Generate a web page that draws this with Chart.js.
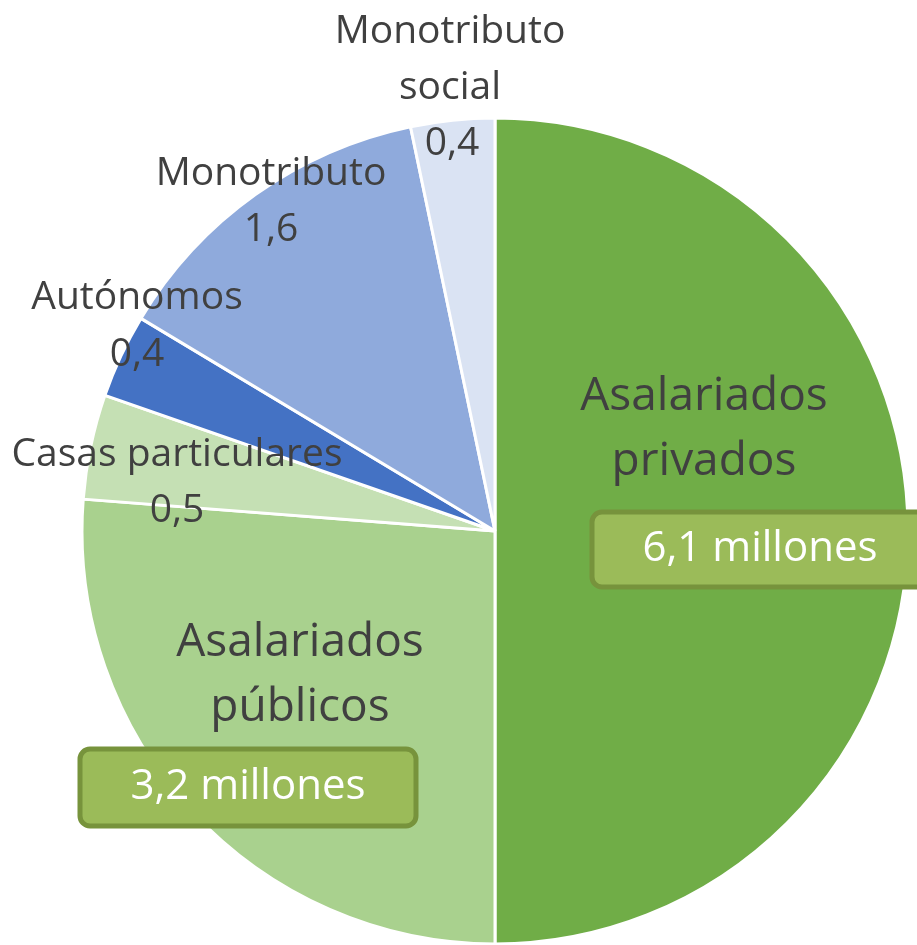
<!DOCTYPE html>
<html>
<head>
<meta charset="utf-8">
<script src="https://cdn.jsdelivr.net/npm/chart.js@4"></script>
<style>
  html, body { margin: 0; padding: 0; background: #fff; }
  #wrap { width: 917px; height: 945px; position: relative; }
</style>
</head>
<body>
<div id="wrap"><canvas id="grafico"></canvas></div>
<script>
// datos (millones de personas)
const categorias = ['Asalariados privados', 'Asalariados públicos', 'Casas particulares', 'Autónomos', 'Monotributo', 'Monotributo social'];
const valores = [6.1, 3.2, 0.5, 0.4, 1.6, 0.4];
const colores = ['#70AD47', '#A9D18E', '#C5E0B4', '#4472C4', '#8FAADC', '#DAE3F3'];

const fmt = v => v.toFixed(1).replace('.', ',');

// etiquetas: lineas de texto y posicion del centro de cada linea
const etiquetas = [
  { lineas: ['Asalariados', 'privados'], x: 704, y: 397, paso: 65, grande: true, caja: { x: 592, y: 512, w: 340, h: 75, tx: 760 } },
  { lineas: ['Asalariados', 'públicos'], x: 300, y: 643, paso: 65, grande: true, caja: { x: 80, y: 749, w: 336, h: 77, tx: 248 } },
  { lineas: ['Casas particulares'], x: 177, y: 455, paso: 56 },
  { lineas: ['Autónomos'], x: 137, y: 298, paso: 57 },
  { lineas: ['Monotributo'], x: 271, y: 174, paso: 56 },
  { lineas: ['Monotributo', 'social'], x: 450, y: 32, paso: 56 }
];

const etiquetasPlugin = {
  id: 'etiquetas',
  afterDraw(chart) {
    const ctx = chart.ctx;
    ctx.save();
    ctx.textAlign = 'center';
    ctx.textBaseline = 'middle';
    etiquetas.forEach((e, i) => {
      ctx.fillStyle = '#404040';
      ctx.font = e.grande ? '46px "Open Sans"' : '39px "Open Sans"';
      e.lineas.forEach((l, k) => ctx.fillText(l, e.x, e.y + k * e.paso));
      if (e.caja) {
        const c = e.caja;
        ctx.beginPath();
        ctx.roundRect(c.x, c.y, c.w, c.h, 10);
        ctx.fillStyle = '#9BBB59';
        ctx.fill();
        ctx.lineWidth = 5;
        ctx.strokeStyle = '#77933C';
        ctx.stroke();
        ctx.fillStyle = '#ffffff';
        ctx.font = '42px "Open Sans"';
        ctx.fillText(fmt(valores[i]) + ' millones', c.tx, c.y + c.h / 2);
      } else {
        ctx.font = '39px "Open Sans"';
        ctx.fillText(fmt(valores[i]), e.x + (i === 5 ? 2 : 0), e.y + e.lineas.length * e.paso);
      }
    });
    ctx.restore();
  }
};

new Chart(document.getElementById('grafico'), {
  type: 'pie',
  data: {
    labels: categorias,
    datasets: [{
      data: valores,
      backgroundColor: colores,
      borderColor: '#ffffff',
      borderWidth: 3
    }]
  },
  options: {
    responsive: true,
    maintainAspectRatio: false,
    animation: false,
    radius: 413,
    layout: { padding: { left: 73, right: 0, top: 117, bottom: 0 } },
    plugins: {
      legend: { display: false },
      tooltip: { enabled: false }
    }
  },
  plugins: [etiquetasPlugin]
});
</script>
</body>
</html>
